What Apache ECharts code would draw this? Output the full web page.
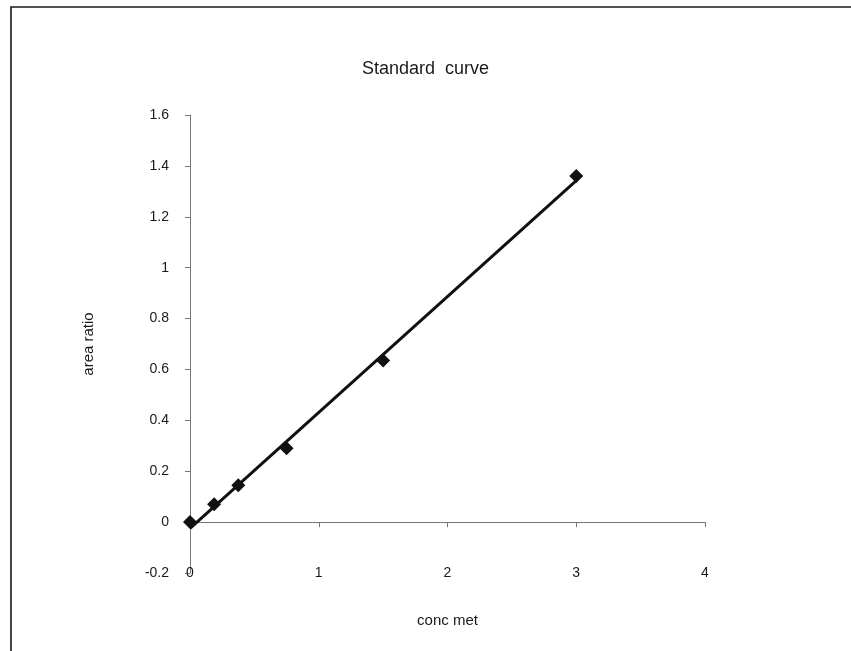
<!DOCTYPE html>
<html>
<head>
<meta charset="utf-8">
<script src="https://cdn.jsdelivr.net/npm/echarts@6/dist/echarts.min.js"></script>
<style>
  html, body { margin: 0; padding: 0; background: #fff; }
  #chart { width: 851px; height: 651px; }
</style>
</head>
<body>
<div id="chart"></div>
<script>
// standard points
var concMet = [0, 0.1875, 0.375, 0.75, 1.5, 3]
var areaRatio = [0, 0.07, 0.145, 0.29, 0.635, 1.36]
// end points of the linear trend line
var trendX = [0, 3]
var trendY = [-0.025, 1.342]

var points = concMet.map(function(x, i) { return [x, areaRatio[i]] })
var trend = trendX.map(function(x, i) { return [x, trendY[i]] })

var myChart = echarts.init(document.getElementById('chart'))
var font = 'Liberation Sans, Arial, sans-serif'
var axisColor = '#777'

var option = {
  backgroundColor: '#fff',
  animation: false,
  title: {
    text: 'Standard  curve',
    left: 'center',
    top: 55,
    textStyle: { fontFamily: font, fontSize: 18, fontWeight: 'normal', color: '#1a1a1a' }
  },
  // scanned page frame
  graphic: [{
    type: 'rect',
    shape: { x: 11, y: 7, width: 900, height: 700 },
    style: { fill: 'none', stroke: '#1a1a1a', lineWidth: 1.6 }
  }],
  grid: { left: 190, right: 146, top: 115, bottom: 78 },
  xAxis: [{
    type: 'value',
    min: 0,
    max: 4,
    interval: 1,
    axisLine: { onZero: true, lineStyle: { color: axisColor, width: 1 } },
    axisTick: { show: true, inside: false, length: 5, lineStyle: { color: axisColor } },
    axisLabel: { show: false },
    splitLine: { show: false }
  }, {
    type: 'value',
    position: 'bottom',
    min: 0,
    max: 4,
    interval: 1,
    axisLine: { show: false, onZero: false },
    axisTick: { show: false },
    axisLabel: { margin: 0, verticalAlign: 'middle', fontFamily: font, fontSize: 14, color: '#1a1a1a' },
    splitLine: { show: false },
    name: 'conc met',
    nameLocation: 'middle',
    nameGap: 40,
    nameTextStyle: { fontFamily: font, fontSize: 15, color: '#1a1a1a' }
  }],
  yAxis: {
    type: 'value',
    min: -0.2,
    max: 1.6,
    interval: 0.2,
    axisLine: { show: true, onZero: false, lineStyle: { color: axisColor, width: 1 } },
    axisTick: { show: true, length: 5, lineStyle: { color: axisColor } },
    axisLabel: { margin: 21, fontFamily: font, fontSize: 14, color: '#1a1a1a' },
    splitLine: { show: false },
    name: 'area ratio',
    nameLocation: 'middle',
    nameGap: 94,
    nameRotate: 90,
    nameTextStyle: { fontFamily: font, fontSize: 15, color: '#1a1a1a' }
  },
  series: [{
    name: 'trend',
    type: 'line',
    data: trend,
    showSymbol: false,
    lineStyle: { color: '#111', width: 3 },
    silent: true
  }, {
    name: 'area ratio',
    type: 'scatter',
    data: points,
    symbol: 'diamond',
    symbolSize: 14,
    itemStyle: { color: '#111', opacity: 1 }
  }]
}

myChart.setOption(option, true)
window.onresize = () => {
  myChart.resize()
}
</script>
</body>
</html>
